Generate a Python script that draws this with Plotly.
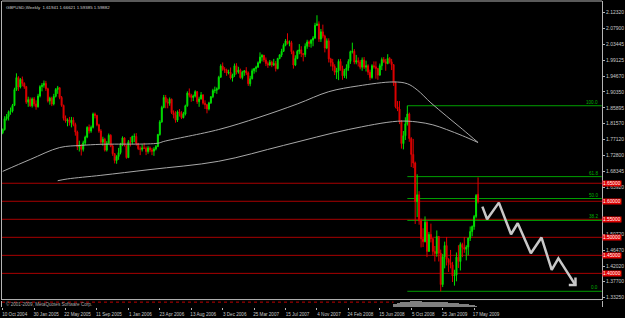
import pandas as pd
import plotly.graph_objects as go

# ---------------- data (GBPUSD weekly) ----------------
open_p = [
1.7900,1.7990,1.8290,1.8350,1.8480,1.8500,1.8660,1.9100,1.9430,1.9170,
1.9380,1.9270,1.9180,1.8750,1.8820,1.8650,1.8840,1.8700,1.8620,1.8920,
1.9180,1.9220,1.9270,1.9120,1.8780,1.8860,1.8700,1.8910,1.9100,1.9150,
1.8880,1.8660,1.8300,1.8230,1.8260,1.8180,1.8250,1.8130,1.7920,1.7510,
1.7560,1.7440,1.7620,1.7780,1.8050,1.7950,1.8050,1.8420,1.8380,1.8120,
1.7950,1.7640,1.7720,1.7420,1.7610,1.7830,1.7530,1.7320,1.7130,1.7240,
1.7350,1.7580,1.7760,1.7550,1.7210,1.7650,1.7640,1.7800,1.7800,1.7600,
1.7460,1.7440,1.7480,1.7470,1.7380,1.7480,1.7420,1.7390,1.7450,1.7520,
1.7850,1.8200,1.8600,1.8880,1.8750,1.8720,1.8830,1.8460,1.8390,1.8250,
1.8480,1.8450,1.8320,1.8420,1.8650,1.9000,1.8940,1.8880,1.8920,1.9040,
1.8760,1.8840,1.8950,1.8720,1.8680,1.8560,1.8730,1.8900,1.9070,1.9080,
1.9120,1.9440,1.9750,1.9660,1.9640,1.9560,1.9580,1.9420,1.9500,1.9760,
1.9580,1.9640,1.9430,1.9580,1.9620,1.9560,1.9260,1.9400,1.9620,1.9680,
1.9720,1.9840,2.0000,2.0050,1.9920,1.9820,1.9780,1.9860,1.9780,1.9820,
1.9680,1.9960,2.0060,2.0160,2.0330,2.0450,2.0380,2.0400,2.0150,1.9780,
1.9960,2.0160,2.0200,2.0100,2.0070,2.0300,2.0420,2.0380,2.0470,2.0530,
2.0880,2.0920,2.0500,2.0700,2.0580,2.0250,2.0450,1.9950,1.9850,1.9740,
1.9580,1.9620,1.9880,1.9680,1.9480,1.9620,1.9700,1.9880,2.0150,2.0160,
1.9860,1.9900,1.9860,1.9720,1.9920,1.9720,1.9760,1.9580,1.9430,1.9760,
1.9730,1.9680,1.9500,1.9760,1.9930,1.9870,1.9820,1.9960,1.9870,1.9790,
1.9280,1.8620,1.8560,1.8220,1.7600,1.7820,1.8150,1.8420,1.7740,1.7300,
1.7060,1.5990,1.6180,1.5460,1.4960,1.4880,1.5420,1.4610,1.5080,1.4960,
1.4610,1.4550,1.5020,1.4560,1.3690,1.4460,1.4770,1.4390,1.4300,1.4240,
1.3930,1.3950,1.4450,1.4330,1.4800,1.4720,1.4670,1.4730,1.4980,1.5160,
1.5300,1.5580,1.6194]
high_p = [
1.8020,1.8360,1.8420,1.8520,1.8600,1.8700,1.9150,1.9550,1.9470,1.9420,
1.9460,1.9300,1.9200,1.8900,1.8880,1.8880,1.8890,1.8800,1.8980,1.9220,
1.9280,1.9350,1.9340,1.9150,1.8900,1.8900,1.8980,1.9140,1.9200,1.9160,
1.8920,1.8680,1.8380,1.8300,1.8340,1.8340,1.8330,1.8180,1.7960,1.7680,
1.7580,1.7680,1.7820,1.8080,1.8130,1.8100,1.8460,1.8460,1.8400,1.8150,
1.8000,1.7790,1.7760,1.7670,1.7880,1.7860,1.7580,1.7340,1.7280,1.7480,
1.7620,1.7800,1.7770,1.7560,1.7700,1.7780,1.7820,1.7880,1.7890,1.7620,
1.7520,1.7580,1.7620,1.7520,1.7530,1.7520,1.7480,1.7500,1.7560,1.7870,
1.8250,1.8650,1.8950,1.8950,1.8850,1.8880,1.8850,1.8520,1.8500,1.8520,
1.8560,1.8500,1.8480,1.8680,1.9050,1.9130,1.8980,1.8960,1.9080,1.9060,
1.8900,1.9030,1.8970,1.8800,1.8700,1.8760,1.8920,1.9120,1.9180,1.9160,
1.9480,1.9800,1.9850,1.9720,1.9680,1.9650,1.9710,1.9540,1.9820,1.9830,
1.9730,1.9680,1.9620,1.9640,1.9720,1.9600,1.9480,1.9680,1.9700,1.9760,
1.9880,2.0130,2.0080,2.0060,1.9990,1.9880,1.9920,1.9900,1.9950,1.9890,
1.9980,2.0080,2.0230,2.0380,2.0500,2.0660,2.0460,2.0450,2.0180,2.0050,
2.0200,2.0360,2.0300,2.0110,2.0380,2.0480,2.0460,2.0500,2.0580,2.0950,
2.1160,2.0990,2.0780,2.0900,2.0620,2.0520,2.0520,1.9980,1.9950,1.9800,
1.9700,1.9940,1.9950,1.9760,1.9670,1.9800,1.9940,2.0180,2.0400,2.0220,
2.0060,1.9990,1.9920,1.9990,2.0000,1.9900,1.9800,1.9650,1.9800,1.9880,
1.9880,1.9700,1.9820,1.9990,2.0000,1.9950,2.0080,2.0000,1.9950,1.9800,
1.9320,1.8780,1.8780,1.8250,1.7950,1.8330,1.8650,1.8460,1.7780,1.7730,
1.7100,1.6750,1.6280,1.5520,1.5250,1.5580,1.5460,1.5150,1.5380,1.4980,
1.4760,1.5190,1.5040,1.4660,1.4540,1.4880,1.5010,1.4420,1.4650,1.4320,
1.4100,1.4580,1.4780,1.4860,1.4850,1.5010,1.4780,1.4990,1.5300,1.5330,
1.5620,1.6200,1.6662]
low_p = [
1.7860,1.7960,1.8240,1.8240,1.8400,1.8460,1.8640,1.9060,1.9060,1.9130,
1.9190,1.9120,1.8700,1.8620,1.8620,1.8600,1.8630,1.8540,1.8600,1.8880,
1.9050,1.9150,1.9060,1.8740,1.8680,1.8640,1.8660,1.8880,1.8980,1.8830,
1.8620,1.8240,1.8180,1.8080,1.8100,1.8050,1.8080,1.7820,1.7420,1.7380,
1.7270,1.7380,1.7560,1.7750,1.7880,1.7900,1.8020,1.8300,1.8080,1.7900,
1.7570,1.7540,1.7380,1.7380,1.7580,1.7500,1.7260,1.7050,1.7040,1.7150,
1.7300,1.7530,1.7520,1.7180,1.7200,1.7520,1.7580,1.7640,1.7540,1.7420,
1.7280,1.7380,1.7460,1.7280,1.7320,1.7360,1.7280,1.7260,1.7410,1.7500,
1.7820,1.8180,1.8580,1.8580,1.8580,1.8650,1.8420,1.8300,1.8180,1.8200,
1.8350,1.8280,1.8300,1.8380,1.8620,1.8880,1.8760,1.8780,1.8880,1.8700,
1.8620,1.8820,1.8680,1.8560,1.8440,1.8520,1.8700,1.8860,1.9000,1.8980,
1.9100,1.9430,1.9620,1.9560,1.9480,1.9520,1.9380,1.9320,1.9450,1.9520,
1.9540,1.9400,1.9380,1.9480,1.9500,1.9200,1.9190,1.9380,1.9540,1.9580,
1.9700,1.9820,1.9880,1.9860,1.9750,1.9700,1.9760,1.9720,1.9750,1.9600,
1.9660,1.9940,2.0000,2.0140,2.0300,2.0350,2.0300,2.0080,1.9680,1.9750,
1.9940,2.0080,2.0000,1.9880,2.0000,2.0230,2.0280,2.0260,2.0300,2.0500,
2.0860,2.0420,2.0420,2.0520,2.0130,2.0220,1.9850,1.9740,1.9620,1.9500,
1.9390,1.9360,1.9620,1.9370,1.9420,1.9400,1.9620,1.9810,2.0100,1.9800,
1.9800,1.9740,1.9660,1.9620,1.9670,1.9600,1.9500,1.9360,1.9400,1.9680,
1.9400,1.9370,1.9480,1.9640,1.9840,1.9620,1.9800,1.9820,1.9640,1.9200,
1.8580,1.8500,1.8140,1.7460,1.7440,1.7700,1.8100,1.7650,1.6950,1.6920,
1.5370,1.5560,1.5350,1.4720,1.4730,1.4860,1.4450,1.4600,1.4860,1.4500,
1.4330,1.4460,1.4330,1.3500,1.3620,1.4140,1.4220,1.4040,1.4140,1.3760,
1.3660,1.3780,1.4150,1.4080,1.4450,1.4570,1.4360,1.4500,1.4900,1.5030,
1.5210,1.5530,1.5939]
close_p = [
1.7990,1.8290,1.8350,1.8480,1.8500,1.8660,1.9100,1.9430,1.9170,1.9380,
1.9270,1.9180,1.8750,1.8820,1.8650,1.8840,1.8700,1.8620,1.8920,1.9180,
1.9220,1.9270,1.9120,1.8780,1.8860,1.8700,1.8910,1.9100,1.9150,1.8880,
1.8660,1.8300,1.8230,1.8260,1.8180,1.8250,1.8130,1.7920,1.7510,1.7560,
1.7440,1.7620,1.7780,1.8050,1.7950,1.8050,1.8420,1.8380,1.8120,1.7950,
1.7640,1.7720,1.7420,1.7610,1.7830,1.7530,1.7320,1.7130,1.7240,1.7350,
1.7580,1.7760,1.7550,1.7210,1.7650,1.7640,1.7800,1.7800,1.7600,1.7460,
1.7440,1.7480,1.7470,1.7380,1.7480,1.7420,1.7390,1.7450,1.7520,1.7850,
1.8200,1.8600,1.8880,1.8750,1.8720,1.8830,1.8460,1.8390,1.8250,1.8480,
1.8450,1.8320,1.8420,1.8650,1.9000,1.8940,1.8880,1.8920,1.9040,1.8760,
1.8840,1.8950,1.8720,1.8680,1.8560,1.8730,1.8900,1.9070,1.9080,1.9120,
1.9440,1.9750,1.9660,1.9640,1.9560,1.9580,1.9420,1.9500,1.9760,1.9580,
1.9640,1.9430,1.9580,1.9620,1.9560,1.9260,1.9400,1.9620,1.9680,1.9720,
1.9840,2.0000,2.0050,1.9920,1.9820,1.9780,1.9860,1.9780,1.9820,1.9680,
1.9960,2.0060,2.0160,2.0330,2.0450,2.0380,2.0400,2.0150,1.9780,1.9960,
2.0160,2.0200,2.0100,2.0070,2.0300,2.0420,2.0380,2.0470,2.0530,2.0880,
2.0920,2.0500,2.0700,2.0580,2.0250,2.0450,1.9950,1.9850,1.9740,1.9580,
1.9620,1.9880,1.9680,1.9480,1.9620,1.9700,1.9880,2.0150,2.0160,1.9860,
1.9900,1.9860,1.9720,1.9920,1.9720,1.9760,1.9580,1.9430,1.9760,1.9730,
1.9680,1.9500,1.9760,1.9930,1.9870,1.9820,1.9960,1.9870,1.9790,1.9280,
1.8620,1.8560,1.8220,1.7600,1.7820,1.8150,1.8420,1.7740,1.7300,1.7060,
1.5990,1.6180,1.5460,1.4960,1.4880,1.5420,1.4610,1.5080,1.4960,1.4610,
1.4550,1.5020,1.4560,1.3690,1.4460,1.4770,1.4390,1.4300,1.4240,1.3930,
1.3950,1.4450,1.4330,1.4800,1.4720,1.4670,1.4730,1.4980,1.5160,1.5300,
1.5580,1.6160,1.5988]
assert len(open_p) == len(high_p) == len(low_p) == len(close_p)

first_week = "2004-10-10"
weeks = pd.date_range(first_week, periods=len(close_p), freq="7D")
bar_idx = list(range(len(close_p)))

# moving averages (sampled along the curves, bar index / price)
ma_fast_idx = [0, 14, 29, 40, 50, 79, 82, 110, 130, 150, 166, 181, 199, 206, 211, 218, 226, 234, 242]
ma_fast = [1.683, 1.716, 1.749, 1.755, 1.758, 1.761, 1.766, 1.799, 1.832, 1.870, 1.904, 1.920,
           1.931, 1.926, 1.909, 1.873, 1.836, 1.800, 1.763]
ma_slow_idx = [28, 33, 50, 75, 110, 143, 176, 201, 211, 219, 226, 234, 242]
ma_slow = [1.657, 1.662, 1.672, 1.688, 1.711, 1.755, 1.799, 1.822, 1.820, 1.812, 1.799, 1.782, 1.763]

# horizontal round-number levels
red_levels = [1.65, 1.60, 1.55, 1.50, 1.45, 1.40]
red_labels = ["1.65000", "1.60000", "1.55000", "1.50000", "1.45000", "1.40000"]

# Fibonacci retracement (swing high 21 Sep 2008 -> swing low Jan 2009)
fib_high = 1.8650
fib_low = 1.3503
fib_start_week = "2008-09-21"
fib_levels = [0.0, 38.2, 50.0, 61.8, 100.0]
fib_labels = ["0.0", "38.2", "50.0", "61.8", "100.0"]

# hand-drawn forecast zigzag (bar index / price)
path_idx = [244.2, 246.6, 252.6, 258.8, 262.2, 268.9, 274.3, 279.5, 282.9, 291.6]
path_price = [1.5851, 1.5500, 1.5962, 1.5085, 1.5390, 1.4560, 1.4994, 1.4098, 1.4414, 1.3675]
head_idx = [288.2, 291.6, 291.6]
head_price = [1.3675, 1.3675, 1.3888]

# small indicator sub-window
sub_idx = list(range(199, 242))
sub_vals = [0.55, 0.6, 0.7, 0.75, 0.8, 0.8, 0.85, 0.9, 0.9, 0.95, 1.0, 1.0, 1.0, 0.95, 0.95,
            0.9, 0.9, 0.9, 0.85, 0.85, 0.85, 0.8, 0.8, 0.8, 0.85, 0.85, 0.8, 0.8, 0.75, 0.75,
            0.7, 0.7, 0.65, 0.65, 0.6, 0.6, 0.55, 0.5, 0.5, 0.45, 0.4, 0.35, 0.3]
sub_level = 0.75
sub_level_end = 199

# axis labels (labels hidden behind the red price boxes are left out)
x_tick_labels = ["10 Oct 2004", "30 Jan 2005", "22 May 2005", "11 Sep 2005", "1 Jan 2006",
                 "23 Apr 2006", "13 Aug 2006", "3 Dec 2006", "25 Mar 2007", "15 Jul 2007",
                 "4 Nov 2007", "24 Feb 2008", "15 Jun 2008", "5 Oct 2008", "25 Jan 2009",
                 "17 May 2009"]
y_tick_labels = ["2.12320", "2.07900", "2.03445", "1.99125", "1.94670", "1.90350", "1.85895",
                 "1.81570", "1.77120", "1.72800", "1.68345", "1.63920",
                 "1.50720", "1.46470", "1.42020", "1.37700", "1.33250"]

title_text = "GBPUSD,Weekly\u00a0\u00a01.61941 1.66621 1.59385 1.59882"
copyright_text = "\u00a9 2001-2009, MetaQuotes Software Corp."

# ---------------- figure ----------------
FONT = "Liberation Sans"
AXIS_GREY = "#b4b4b4"
x_tick_pos = [weeks.get_loc(pd.to_datetime(s)) for s in x_tick_labels]
fib_start = weeks.get_loc(pd.to_datetime(fib_start_week))

fig = go.Figure()

fig.add_trace(go.Candlestick(
    x=bar_idx, open=open_p, high=high_p, low=low_p, close=close_p,
    increasing=dict(line=dict(color="#00e000", width=1), fillcolor="#00e000"),
    decreasing=dict(line=dict(color="#e00000", width=1), fillcolor="#e00000"),
    whiskerwidth=0, hoverinfo="skip", xaxis="x", yaxis="y"))

fig.add_trace(go.Scatter(x=ma_fast_idx, y=ma_fast, mode="lines",
                         line=dict(color="#a8a8a8", width=1, shape="spline"), hoverinfo="skip"))
fig.add_trace(go.Scatter(x=ma_slow_idx, y=ma_slow, mode="lines",
                         line=dict(color="#a8a8a8", width=1, shape="spline"), hoverinfo="skip"))

fig.add_trace(go.Scatter(x=path_idx, y=path_price, mode="lines",
                         line=dict(color="#c8c8c8", width=2.5), hoverinfo="skip"))
fig.add_trace(go.Scatter(x=head_idx, y=head_price, mode="lines",
                         line=dict(color="#c8c8c8", width=2.5), hoverinfo="skip"))

fig.add_trace(go.Bar(x=sub_idx, y=sub_vals, marker=dict(color="#808080", line=dict(width=0)),
                     width=0.5, xaxis="x", yaxis="y2", hoverinfo="skip"))
fig.add_trace(go.Scatter(x=[-0.35, sub_level_end], y=[sub_level, sub_level], mode="lines",
                         line=dict(color="#c00000", width=1, dash="dot"),
                         xaxis="x", yaxis="y2", hoverinfo="skip"))

shapes = []
for lv in red_levels:
    shapes.append(dict(type="line", xref="paper", x0=0, x1=1, yref="y", y0=lv, y1=lv,
                       line=dict(color="#a80000", width=1), layer="below"))
fib_prices = [fib_low + (fib_high - fib_low) * f / 100.0 for f in fib_levels]
for fp in fib_prices:
    shapes.append(dict(type="line", xref="x", x0=fib_start, x1=305, yref="y", y0=fp, y1=fp,
                       line=dict(color="#00a000", width=1), layer="below"))
# chart frame
for yy in (0, 1):
    shapes.append(dict(type="line", xref="paper", x0=0, x1=1, yref="y domain", y0=yy, y1=yy,
                       line=dict(color=AXIS_GREY, width=1)))

annotations = []
annotations.append(dict(xref="paper", yref="paper", x=0, y=1, xanchor="left", yanchor="top",
                        xshift=2, yshift=-2, text=title_text, showarrow=False,
                        font=dict(family=FONT, size=4.4, color="#d0d0d0")))
annotations.append(dict(xref="paper", yref="y2 domain", x=0, y=0.4, xanchor="left", yanchor="middle",
                        xshift=2, text=copyright_text, showarrow=False,
                        font=dict(family=FONT, size=4.6, color="#a8a8a8")))
for lv, lab in zip(red_levels, red_labels):
    annotations.append(dict(xref="paper", yref="y", x=1, y=lv, xanchor="left", yanchor="middle",
                            xshift=0, text=lab, showarrow=False, bgcolor="#e00000", borderpad=0,
                            font=dict(family=FONT, size=4.8, color="#ffffff")))
for fp, lab in zip(fib_prices, fib_labels):
    annotations.append(dict(xref="paper", yref="y", x=1, y=fp, xanchor="right", yanchor="bottom",
                            xshift=-2, yshift=-1, text=lab, showarrow=False,
                            font=dict(family=FONT, size=4.6, color="#00b000")))

price_top = 2.15555
price_bot = 1.32743
fig.update_layout(
    width=625, height=318,
    margin=dict(l=1, r=18, t=1, b=10),
    paper_bgcolor="black", plot_bgcolor="black",
    showlegend=False, hovermode=False, bargap=0,
    xaxis=dict(range=[-0.35, 305.1], anchor="y2", tickvals=x_tick_pos, ticktext=x_tick_labels,
               ticks="outside", ticklen=2, tickcolor=AXIS_GREY, ticklabelshift=12,
               tickfont=dict(family=FONT, size=4.6, color="#c8c8c8"),
               showgrid=False, zeroline=False, showline=False,
               rangeslider=dict(visible=False)),
    yaxis=dict(domain=[0.0244, 1], range=[price_bot, price_top], side="right",
               tickvals=[float(t) for t in y_tick_labels], ticktext=y_tick_labels,
               ticks="outside", ticklen=2, tickcolor=AXIS_GREY,
               tickfont=dict(family=FONT, size=5, color="#c8c8c8"),
               showgrid=False, zeroline=False, showline=True, linecolor=AXIS_GREY,
               linewidth=1, mirror=True),
    yaxis2=dict(domain=[0, 0.0212], range=[0, 1], side="right", showticklabels=False,
                ticks="", showgrid=False, zeroline=False, showline=True,
                linecolor=AXIS_GREY, linewidth=1, mirror=True),
    shapes=shapes, annotations=annotations,
)

fig.write_html("out.html")
